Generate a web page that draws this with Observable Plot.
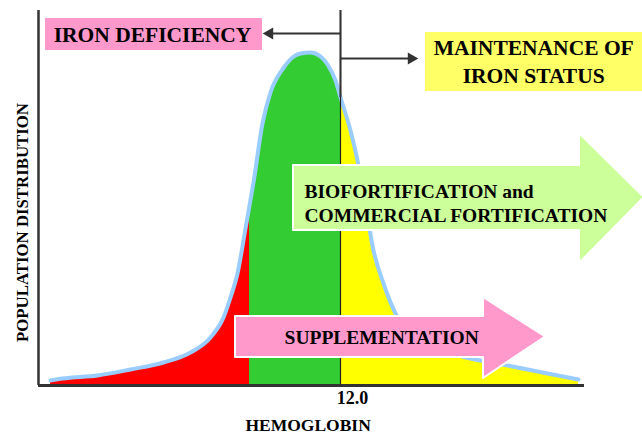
<!DOCTYPE html>
<html>
<head>
<meta charset="utf-8">
<script src="https://cdn.jsdelivr.net/npm/d3@7"></script>
<script src="https://cdn.jsdelivr.net/npm/@observablehq/plot@0.6"></script>
<style>
  html, body { margin: 0; padding: 0; background: #fff; }
  svg { display: block; }
</style>
</head>
<body>
<div id="chart"></div>
<script>
// Hemoglobin (x) and population distribution (y)
const hb  = [4.75, 5.05, 5.925, 6.75, 7.575, 8.25, 8.75, 9.075, 9.25, 9.425, 9.625, 9.725, 9.825, 10.05, 10.25, 10.575, 10.8, 11.0, 11.25, 11.5, 11.675, 11.875, 12.0, 12.25, 12.425, 12.625, 12.825, 13.075, 13.375, 13.75, 14.5, 15.25, 16.175, 17.175, 17.95];
const pop = [1.0, 1.4, 2.0, 3.2, 4.6, 6.6, 9.6, 13.6, 17.6, 22.4, 31.4, 36.0, 40.6, 52.4, 58.6, 63.5, 65.6, 66.4, 66.6, 65.8, 64.2, 61, 57.6, 51, 45, 36, 27, 20.4, 14.4, 10, 7, 5.4, 4, 2.4, 1.2];

const cutoffs = [9.725, 12.0];         // red | green | yellow boundaries
const tickValues = [12.0];
const tickLabels = ["12.0"];

const curve = hb.map((x, i) => ({x, y: pop[i]}));
const red = curve.filter(d => d.x <= cutoffs[0]);
const green = curve.filter(d => d.x >= cutoffs[0] && d.x <= cutoffs[1]);
const yellow = curve.filter(d => d.x >= cutoffs[1]);

// Annotation boxes (data units)
const boxes = [
  {x1: 4.625, x2: 10.05, y1: 67.0, y2: 73.4, fill: "#ff99cc"},
  {x1: 14.125, x2: 19.6, y1: 58.8, y2: 70.6, fill: "#ffff66"}
];
// Block arrows: [x, bottom, top]
const greenArrow = [
  {x: 10.825, y1: 31.0, y2: 44.0},
  {x: 17.975, y1: 31.0, y2: 44.0},
  {x: 17.975, y1: 24.4, y2: 50.4},
  {x: 19.6,   y1: 37.6, y2: 37.6}
];
const pinkArrow = [
  {x: 9.375,  y1: 5.6,  y2: 13.8},
  {x: 15.575, y1: 5.6,  y2: 13.8},
  {x: 15.575, y1: 1.4,  y2: 17.6},
  {x: 17.125, y1: 9.7,  y2: 9.7}
];
// thin pointer arrows from the 12.0 line
const pointers = [
  {x1: 12, x2: 10.3, y: 70.4, head: 10.23, rot: -90},
  {x1: 12, x2: 13.7, y: 65.4, head: 13.77, rot: 90}
];

const centeredLabels = [
  {x: 7.3, y: 70.0, text: "IRON DEFICIENCY", size: 21.5},
  {x: 16.83, y: 67.4, text: "MAINTENANCE OF", size: 21.5},
  {x: 16.83, y: 61.8, text: "IRON STATUS", size: 21.5},
  {x: 13.03, y: 9.6, text: "SUPPLEMENTATION", size: 19.5}
];
const leftLabels = [
  {x: 11.1, y: 38.8, text: "BIOFORTIFICATION and", size: 19.5},
  {x: 11.1, y: 34.0, text: "COMMERCIAL FORTIFICATION", size: 19.5}
];

const font = "Liberation Serif, Times New Roman, serif";
const xDomain = [4.45, 18.05];
const yDomain = [0, 75];

const chart = Plot.plot({
  width: 642,
  height: 435,
  marginLeft: 38,
  marginRight: 60,
  marginTop: 10,
  marginBottom: 50,
  x: {domain: xDomain},
  y: {domain: yDomain, axis: null},
  style: {background: "#fff", overflow: "visible"},
  marks: [
    Plot.areaY(red, {x: "x", y: "y", fill: "#ff0000", curve: "monotone-x"}),
    Plot.areaY(green, {x: "x", y: "y", fill: "#33cc33", curve: "monotone-x"}),
    Plot.areaY(yellow, {x: "x", y: "y", fill: "#ffff00", curve: "monotone-x"}),
    Plot.line(curve, {x: "x", y: "y", stroke: "#99ccff", strokeWidth: 4, curve: "monotone-x"}),
    Plot.ruleX([cutoffs[1]], {y1: 0, y2: 75, stroke: "#222", strokeWidth: 1.2}),
    Plot.ruleX([cutoffs[1]], {y1: 57.6, y2: 75, stroke: "#333", strokeWidth: 2}),
    Plot.ruleX([xDomain[0]], {y1: 0, y2: 75, stroke: "#333", strokeWidth: 2.5}),
    Plot.ruleY([0], {x1: xDomain[0], x2: xDomain[1] + 0.05, stroke: "#333", strokeWidth: 3}),
    Plot.ruleY(pointers, {x1: "x1", x2: "x2", y: "y", stroke: "#333", strokeWidth: 2}),
    Plot.dot(pointers, {x: "head", y: "y", symbol: "triangle", r: 4.5, fill: "#333", stroke: "none", rotate: "rot"}),
    Plot.rect(boxes, {x1: "x1", x2: "x2", y1: "y1", y2: "y2", fill: "fill"}),
    Plot.areaY(greenArrow, {x: "x", y1: "y1", y2: "y2", fill: "#ccff99", stroke: "#fff", strokeWidth: 2}),
    Plot.areaY(pinkArrow, {x: "x", y1: "y1", y2: "y2", fill: "#ff99cc", stroke: "#fff", strokeWidth: 2}),
    Plot.text(centeredLabels, {x: "x", y: "y", text: "text", textAnchor: "middle", fontSize: "size",
      fontWeight: "bold", fontFamily: font, fill: "#000"}),
    Plot.text(leftLabels, {x: "x", y: "y", text: "text", textAnchor: "start", fontSize: "size",
      fontWeight: "bold", fontFamily: font, fill: "#000"}),
    Plot.axisX({ticks: tickValues, tickFormat: (d, i) => tickLabels[i], tickSize: 0, tickPadding: 6,
      dx: 12, fontSize: 18, fontWeight: "bold", fontFamily: font, fill: "#000", label: null}),
    Plot.text(["HEMOGLOBIN"], {x: 11.19, y: -8, text: d => d, fontSize: 17.5, fontWeight: "bold",
      fontFamily: font, fill: "#000"}),
    Plot.text(["POPULATION DISTRIBUTION"], {x: 4.05, y: 32.6, text: d => d, rotate: -90, fontSize: 16.8,
      fontWeight: "bold", fontFamily: font, fill: "#000"})
  ]
});
document.getElementById("chart").appendChild(chart);
</script>
</body>
</html>
